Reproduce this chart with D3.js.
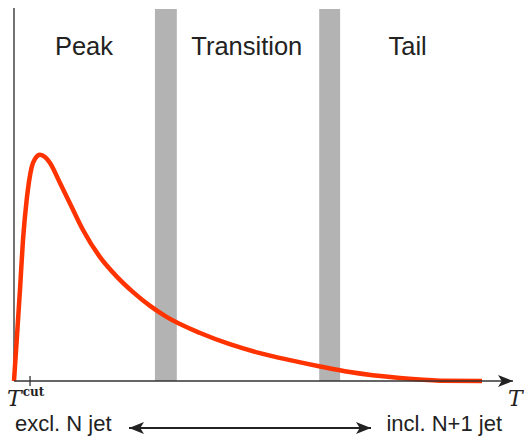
<!DOCTYPE html>
<meta charset="utf-8">
<style>
body { margin: 0; background: #fff; }
text { font-family: "Liberation Sans", Arial, sans-serif; fill: #222; }
</style>
<body>
<script src="https://cdn.jsdelivr.net/npm/d3@7"></script>
<script>

// curve (tau in arbitrary units, height in arbitrary units)
var tauValues = [0, 0.56, 1.23, 1.85, 2.61, 3.64, 4.32, 5.35, 6.38, 7.41, 9.47, 11.5, 14.2, 17.7, 21.2, 24.5, 28.0, 31.3, 38.3, 44.4, 50.6, 56.8, 63.0, 69.1, 79.4, 87.7, 96.3];
var rateValues = [0, 11.0, 24.5, 37.9, 48.7, 57.5, 59.7, 60.8, 60.2, 58.6, 53.2, 47.8, 40.6, 33.3, 28.0, 23.9, 20.2, 17.3, 12.9, 9.9, 7.5, 5.6, 3.9, 2.4, 0.8, 0.1, 0];

// gray boundaries between regions
var bandStart = [29.0, 62.8];
var bandEnd = [33.5, 67.1];

var regionNames = ["Peak", "Transition", "Tail"];
var regionCenters = [14.4, 47.9, 81.0];

var tauCut = 3.3;

var width = 524, height = 436;
var x = d3.scaleLinear().domain([0, 100]).range([14, 500]);
var y = d3.scaleLinear().domain([0, 100]).range([381, 9]);

var svg = d3.select("body").append("svg")
  .attr("width", width)
  .attr("height", height);

var defs = svg.append("defs");
defs.append("marker")
  .attr("id", "head")
  .attr("viewBox", "0 0 10 10")
  .attr("refX", 10).attr("refY", 5)
  .attr("markerWidth", 15).attr("markerHeight", 12)
  .attr("markerUnits", "userSpaceOnUse")
  .attr("orient", "auto-start-reverse")
  .attr("preserveAspectRatio", "none")
  .append("path")
  .attr("d", "M0,0 L10,5 L0,10 L2.5,5 Z")
  .attr("fill", "#222");

// bands
svg.selectAll("rect.band")
  .data(bandStart)
  .enter().append("rect")
  .attr("class", "band")
  .attr("x", function(d) { return x(d); })
  .attr("width", function(d, i) { return x(bandEnd[i]) - x(d); })
  .attr("y", y(100))
  .attr("height", y(0) - y(100))
  .attr("fill", "#b3b3b3");

// region labels
svg.selectAll("text.region")
  .data(regionNames)
  .enter().append("text")
  .attr("class", "region")
  .attr("x", function(d, i) { return x(regionCenters[i]); })
  .attr("y", 55)
  .attr("text-anchor", "middle")
  .style("font-size", "25.5px")
  .text(function(d) { return d; });

// y axis (plain line)
svg.append("line")
  .attr("x1", x(0)).attr("x2", x(0))
  .attr("y1", 8).attr("y2", y(0))
  .attr("stroke", "#444").attr("stroke-width", 1.5);

// curve
var line = d3.line()
  .x(function(d) { return x(d[0]); })
  .y(function(d) { return y(d[1]); })
  .curve(d3.curveMonotoneX);

svg.append("path")
  .datum(d3.zip(tauValues, rateValues))
  .attr("d", line)
  .attr("fill", "none")
  .attr("stroke", "#ff3300")
  .attr("stroke-width", 4.5)
  .attr("stroke-linecap", "butt");

// x axis with arrow
svg.append("line")
  .attr("x1", x(0)).attr("x2", 513)
  .attr("y1", y(0)).attr("y2", y(0))
  .attr("stroke", "#333").attr("stroke-width", 1.6)
  .attr("marker-end", "url(#head)");

// tau cut tick
svg.append("line")
  .attr("x1", x(tauCut)).attr("x2", x(tauCut))
  .attr("y1", y(0) - 5).attr("y2", y(0) + 5)
  .attr("stroke", "#333").attr("stroke-width", 1.3);

var tcut = svg.append("text")
  .attr("x", 7).attr("y", 406)
  .style("font-family", "'DejaVu Serif', serif")
  .style("font-style", "italic")
  .style("font-size", "22px");
tcut.append("tspan").text("T");
tcut.append("tspan")
  .attr("dy", -10).attr("dx", 1)
  .style("font-size", "12px")
  .style("font-style", "normal")
  .style("font-weight", "bold")
  .text("cut");

svg.append("text")
  .attr("x", 508).attr("y", 406)
  .style("font-family", "'DejaVu Serif', serif")
  .style("font-style", "italic")
  .style("font-size", "22px")
  .text("T");

// bottom labels and double arrow
svg.append("text")
  .attr("x", 15).attr("y", 431)
  .style("font-size", "22px")
  .text("excl. N jet");

svg.append("text")
  .attr("x", 502).attr("y", 431)
  .attr("text-anchor", "end")
  .style("font-size", "22px")
  .text("incl. N+1 jet");

svg.append("line")
  .attr("x1", 129).attr("x2", 371)
  .attr("y1", 428).attr("y2", 428)
  .attr("stroke", "#222").attr("stroke-width", 1.8)
  .attr("marker-start", "url(#head)")
  .attr("marker-end", "url(#head)");

</script>
</body>
